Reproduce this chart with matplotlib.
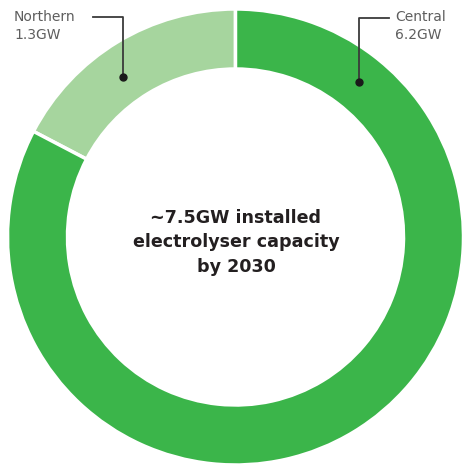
import matplotlib
matplotlib.use("Agg")
import matplotlib.pyplot as plt

regions = ["Northern", "Central"]
capacity_gw = [1.3, 6.2]
colors = ["#a6d59e", "#3bb54a"]
center_lines = ["~7.5GW installed", "electrolyser capacity", "by 2030"]

W, H = 463, 469
fig = plt.figure(figsize=(W / 100, H / 100), dpi=100)
ax = fig.add_axes([0, 0, 1, 1])

cx, cy = 235.5, H - 237
R = 228
ax.pie(capacity_gw, colors=colors, startangle=90, counterclock=True,
       radius=R, center=(cx, cy),
       wedgeprops=dict(width=60, edgecolor="white", linewidth=2.5))
ax.set_xlim(0, W)
ax.set_ylim(0, H)
ax.set_aspect("equal")
ax.axis("off")

font = ["DejaVu Sans"]
lab_color = "#5e5e5e"
line_color = "#3a3a3a"

def Y(p):
    return H - p

# Northern label
ax.text(14, Y(26), f"{regions[0]}\n{capacity_gw[0]}GW", ha="left", va="center",
        fontsize=10, color=lab_color, family=font, linespacing=1.28)
ax.plot([93, 123, 123], [Y(17), Y(17), Y(77)], color=line_color, lw=1.3)
ax.plot([123], [Y(77)], "o", color="#1a1a1a", ms=5)

# Central label
ax.text(395, Y(26), f"{regions[1]}\n{capacity_gw[1]}GW", ha="left", va="center",
        fontsize=10, color=lab_color, family=font, linespacing=1.28)
ax.plot([389, 359, 359], [Y(18), Y(18), Y(82)], color=line_color, lw=1.3)
ax.plot([359], [Y(82)], "o", color="#1a1a1a", ms=5)

# center text
for i, (line, yp) in enumerate(zip(center_lines, [218, 242, 267])):
    ax.text(236, Y(yp), line, ha="center", va="center", fontsize=12.6,
            fontweight="bold", color="#231f20", family=font)

fig.savefig("out.png", dpi=100)
